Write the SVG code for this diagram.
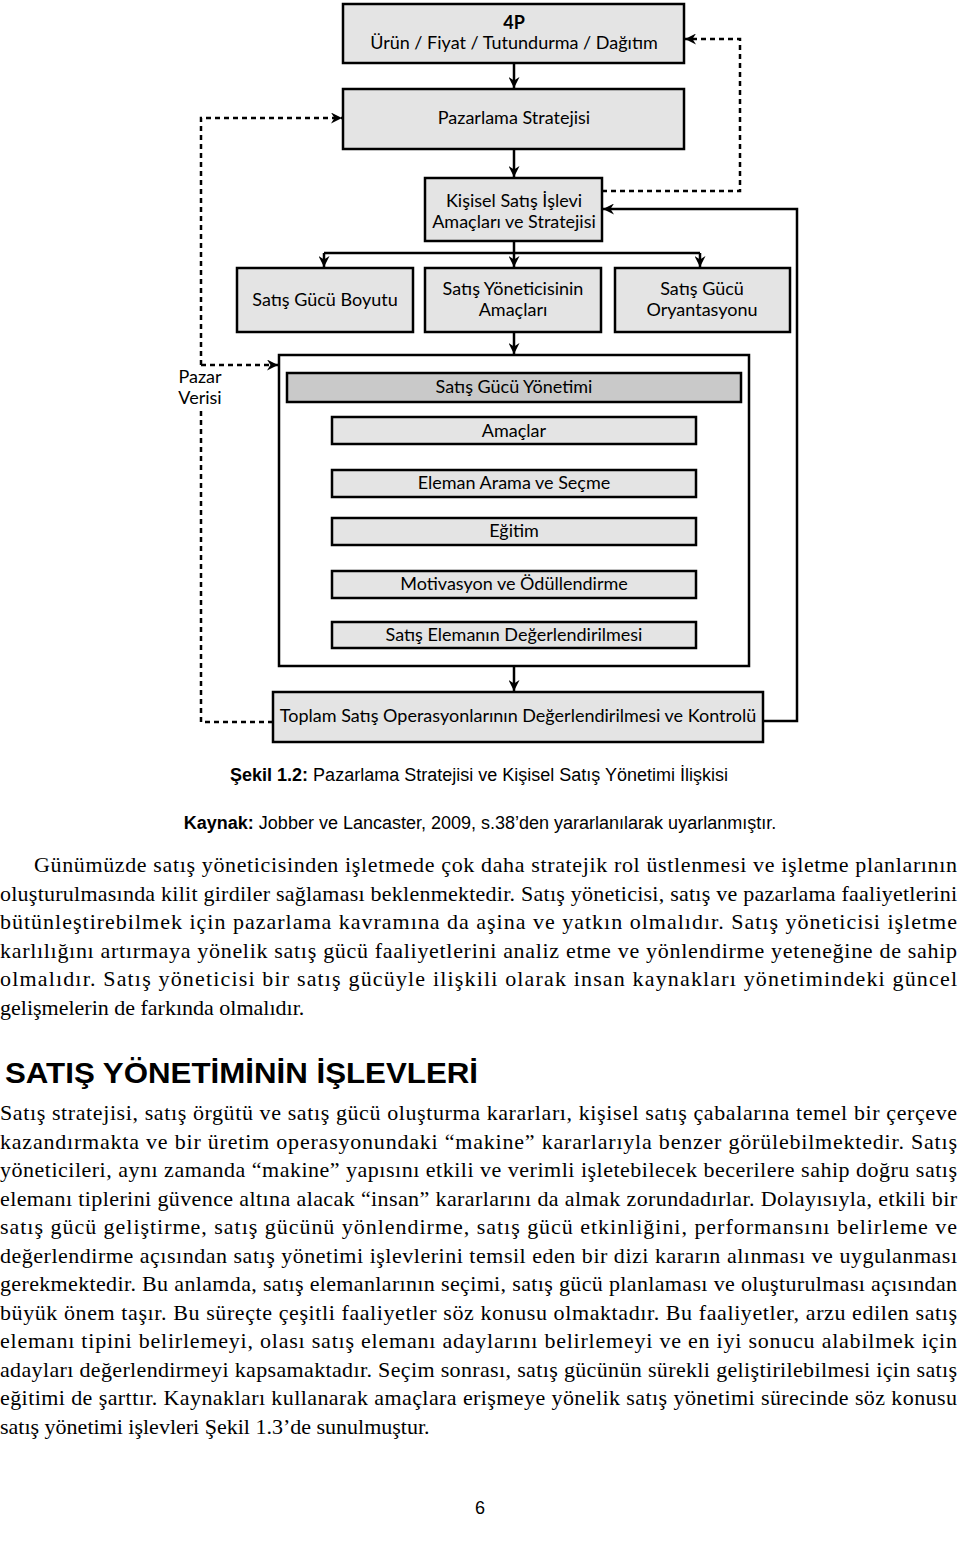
<svg xmlns="http://www.w3.org/2000/svg" width="960" height="1544" viewBox="0 0 960 1544">
<style>
.box{fill:#e4e4e4;stroke:#000;stroke-width:2.5}
.bar{fill:#c9c9c9;stroke:#000;stroke-width:2.5}
.cont{fill:#fff;stroke:#000;stroke-width:2.5}
.t{font-family:Lato,"Open Sans",sans-serif;font-size:18px;fill:#000;text-anchor:middle}
.tb{font-weight:bold}
.ln{fill:none;stroke:#000;stroke-width:2.5}
.dl{fill:none;stroke:#000;stroke-width:2.5;stroke-dasharray:5 4}
.cap{font-family:"Liberation Sans",Arial,sans-serif;font-size:18px;fill:#000;text-anchor:middle}
.body{font-family:"Liberation Serif","Times New Roman",serif;font-size:22px;fill:#000}
.h{font-family:"Liberation Sans",Arial,sans-serif;font-size:30px;font-weight:bold;fill:#000}
</style>
<defs>
<marker id="ah" markerUnits="userSpaceOnUse" markerWidth="12" markerHeight="11" refX="11" refY="5.5" orient="auto">
<path d="M0,0 L11,5.5 L0,11 L3.5,5.5 Z" fill="#000"/>
</marker>
</defs>

<g id="connectors">
<path class="ln" d="M514,63 V88" marker-end="url(#ah)"/>
<path class="ln" d="M514,149 V177" marker-end="url(#ah)"/>
<path class="ln" d="M514,241 V267" marker-end="url(#ah)"/>
<path class="ln" d="M324,253 H700"/>
<path class="ln" d="M324,253 V267" marker-end="url(#ah)"/>
<path class="ln" d="M700,253 V267" marker-end="url(#ah)"/>
<path class="ln" d="M514,332 V354" marker-end="url(#ah)"/>
<path class="ln" d="M514,666 V691" marker-end="url(#ah)"/>
<path class="ln" d="M763,721 H797 V209 H603" marker-end="url(#ah)"/>
<path class="dl" d="M602,191 H740 V39 H685" marker-end="url(#ah)"/>
<path class="dl" d="M201,365 V118 H342" marker-end="url(#ah)"/>
<path class="dl" d="M201,365 H278" marker-end="url(#ah)"/>
<path class="dl" d="M273,722 H201 V411"/>
</g>

<g id="n4p">
<rect class="box" x="343" y="4" width="341" height="59"/>
<text class="t tb" x="514" y="29">4P</text>
<text class="t" x="514" y="49">Ürün / Fiyat / Tutundurma / Dağıtım</text>
</g>
<g id="pazarlama">
<rect class="box" x="343" y="89" width="341" height="60"/>
<text class="t" x="514" y="124">Pazarlama Stratejisi</text>
</g>
<g id="kisisel">
<rect class="box" x="425" y="178" width="177" height="63"/>
<text class="t" x="514" y="207">Kişisel Satış İşlevi</text>
<text class="t" x="514" y="228">Amaçları ve Stratejisi</text>
</g>
<g id="boyutu">
<rect class="box" x="237" y="268" width="176" height="64"/>
<text class="t" x="325" y="306">Satış Gücü Boyutu</text>
</g>
<g id="yonetici">
<rect class="box" x="425" y="268" width="176" height="64"/>
<text class="t" x="513" y="295">Satış Yöneticisinin</text>
<text class="t" x="513" y="316">Amaçları</text>
</g>
<g id="oryantasyon">
<rect class="box" x="615" y="268" width="175" height="64"/>
<text class="t" x="702" y="295">Satış Gücü</text>
<text class="t" x="702" y="316">Oryantasyonu</text>
</g>
<g id="pazarverisi">
<text class="t" x="200" y="383">Pazar</text>
<text class="t" x="200" y="404">Verisi</text>
</g>
<g id="yonetim">
<rect class="cont" x="279" y="355" width="470" height="311"/>
</g>
<g id="sgy">
<rect class="bar" x="287" y="373" width="454" height="29"/>
<text class="t" x="514" y="393">Satış Gücü Yönetimi</text>
</g>
<g id="amaclar">
<rect class="box" x="332" y="417" width="364" height="27"/>
<text class="t" x="514" y="437">Amaçlar</text>
</g>
<g id="eleman">
<rect class="box" x="332" y="470" width="364" height="27"/>
<text class="t" x="514" y="489">Eleman Arama ve Seçme</text>
</g>
<g id="egitim">
<rect class="box" x="332" y="518" width="364" height="27"/>
<text class="t" x="514" y="537">Eğitim</text>
</g>
<g id="motivasyon">
<rect class="box" x="332" y="571" width="364" height="27"/>
<text class="t" x="514" y="590">Motivasyon ve Ödüllendirme</text>
</g>
<g id="degerlendirme">
<rect class="box" x="332" y="622" width="364" height="26"/>
<text class="t" x="514" y="641">Satış Elemanın Değerlendirilmesi</text>
</g>
<g id="toplam">
<rect class="box" x="273" y="692" width="490" height="50"/>
<text class="t" x="518" y="722">Toplam Satış Operasyonlarının Değerlendirilmesi ve Kontrolü</text>
</g>

<g id="caption">
<text class="cap" x="479" y="781"><tspan font-weight="bold">Şekil 1.2:</tspan> Pazarlama Stratejisi ve Kişisel Satış Yönetimi İlişkisi</text>
<text class="cap" x="480" y="829"><tspan font-weight="bold">Kaynak:</tspan> Jobber ve Lancaster, 2009, s.38’den yararlanılarak uyarlanmıştır.</text>
</g>

<g id="para1" class="body">
<text x="34" y="872" textLength="923" lengthAdjust="spacing">Günümüzde satış yöneticisinden işletmede çok daha stratejik rol üstlenmesi ve işletme planlarının</text>
<text x="0" y="900.5" textLength="957" lengthAdjust="spacing">oluşturulmasında kilit girdiler sağlaması beklenmektedir. Satış yöneticisi, satış ve pazarlama faaliyetlerini</text>
<text x="0" y="929" textLength="957" lengthAdjust="spacing">bütünleştirebilmek için pazarlama kavramına da aşina ve yatkın olmalıdır. Satış yöneticisi işletme</text>
<text x="0" y="957.5" textLength="957" lengthAdjust="spacing">karlılığını artırmaya yönelik satış gücü faaliyetlerini analiz etme ve yönlendirme yeteneğine de sahip</text>
<text x="0" y="986" textLength="957" lengthAdjust="spacing">olmalıdır. Satış yöneticisi bir satış gücüyle ilişkili olarak insan kaynakları yönetimindeki güncel</text>
<text x="0" y="1014.5">gelişmelerin de farkında olmalıdır.</text>
</g>

<g id="heading">
<text class="h" x="5" y="1083" textLength="473" lengthAdjust="spacingAndGlyphs">SATIŞ YÖNETİMİNİN İŞLEVLERİ</text>
</g>

<g id="para2" class="body">
<text x="0" y="1120" textLength="957" lengthAdjust="spacing">Satış stratejisi, satış örgütü ve satış gücü oluşturma kararları, kişisel satış çabalarına temel bir çerçeve</text>
<text x="0" y="1148.5" textLength="957" lengthAdjust="spacing">kazandırmakta ve bir üretim operasyonundaki “makine” kararlarıyla benzer görülebilmektedir. Satış</text>
<text x="0" y="1177" textLength="957" lengthAdjust="spacing">yöneticileri, aynı zamanda “makine” yapısını etkili ve verimli işletebilecek becerilere sahip doğru satış</text>
<text x="0" y="1205.5" textLength="957" lengthAdjust="spacing">elemanı tiplerini güvence altına alacak “insan” kararlarını da almak zorundadırlar. Dolayısıyla, etkili bir</text>
<text x="0" y="1234" textLength="957" lengthAdjust="spacing">satış gücü geliştirme, satış gücünü yönlendirme, satış gücü etkinliğini, performansını belirleme ve</text>
<text x="0" y="1262.5" textLength="957" lengthAdjust="spacing">değerlendirme açısından satış yönetimi işlevlerini temsil eden bir dizi kararın alınması ve uygulanması</text>
<text x="0" y="1291" textLength="957" lengthAdjust="spacing">gerekmektedir. Bu anlamda, satış elemanlarının seçimi, satış gücü planlaması ve oluşturulması açısından</text>
<text x="0" y="1319.5" textLength="957" lengthAdjust="spacing">büyük önem taşır. Bu süreçte çeşitli faaliyetler söz konusu olmaktadır. Bu faaliyetler, arzu edilen satış</text>
<text x="0" y="1348" textLength="957" lengthAdjust="spacing">elemanı tipini belirlemeyi, olası satış elemanı adaylarını belirlemeyi ve en iyi sonucu alabilmek için</text>
<text x="0" y="1376.5" textLength="957" lengthAdjust="spacing">adayları değerlendirmeyi kapsamaktadır. Seçim sonrası, satış gücünün sürekli geliştirilebilmesi için satış</text>
<text x="0" y="1405" textLength="957" lengthAdjust="spacing">eğitimi de şarttır. Kaynakları kullanarak amaçlara erişmeye yönelik satış yönetimi sürecinde söz konusu</text>
<text x="0" y="1433.5">satış yönetimi işlevleri Şekil 1.3’de sunulmuştur.</text>
</g>

<g id="page">
<text class="cap" x="480" y="1514">6</text>
</g>
</svg>
